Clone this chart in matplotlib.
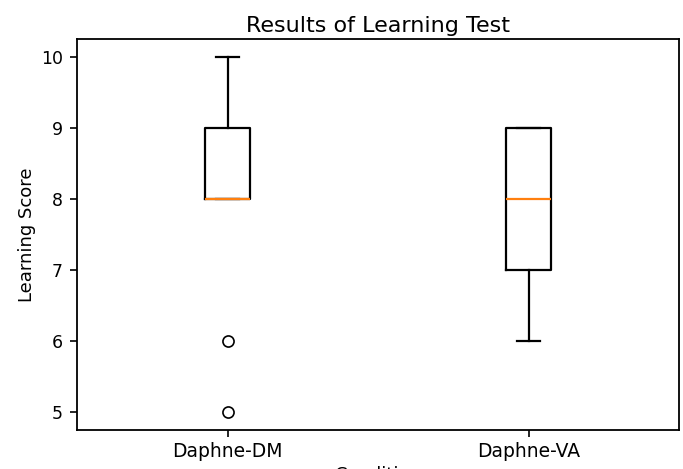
import matplotlib
matplotlib.use('Agg')
import matplotlib.pyplot as plt

conditions = ['Daphne-DM', 'Daphne-VA']
dm_scores = [5, 6, 8, 8, 8, 8, 9, 9, 10]
va_scores = [6, 7, 7, 8, 8, 9, 9, 9]

W, H = 683, 469
fig = plt.figure(figsize=(W / 100, H / 100), dpi=100)
ax = fig.add_axes([77 / W, 1 - 430 / H, (679 - 77) / W, (430 - 39) / H])

lw = 1.6
ax.boxplot([dm_scores, va_scores], widths=0.15,
           boxprops=dict(linewidth=lw),
           whiskerprops=dict(linewidth=lw),
           capprops=dict(linewidth=lw),
           medianprops=dict(linewidth=lw, color='#ff7f0e'),
           flierprops=dict(marker='o', markersize=8, markerfacecolor='none',
                           markeredgecolor='black', markeredgewidth=1.2))
ax.set_xticks([1, 2])
ax.set_xticklabels(conditions)
ax.tick_params(axis='y', labelsize=12.5, width=1.2, length=5, pad=5)
ax.tick_params(axis='x', labelsize=13.5, width=1.2, length=5)
for s in ax.spines.values():
    s.set_linewidth(1.3)

ax.set_title('Results of Learning Test', fontsize=16, pad=5)
ax.set_ylabel('Learning Score', fontsize=13)
ax.set_xlabel('Condition', fontsize=13, labelpad=3.5)

fig.savefig('out.png', dpi=100)
